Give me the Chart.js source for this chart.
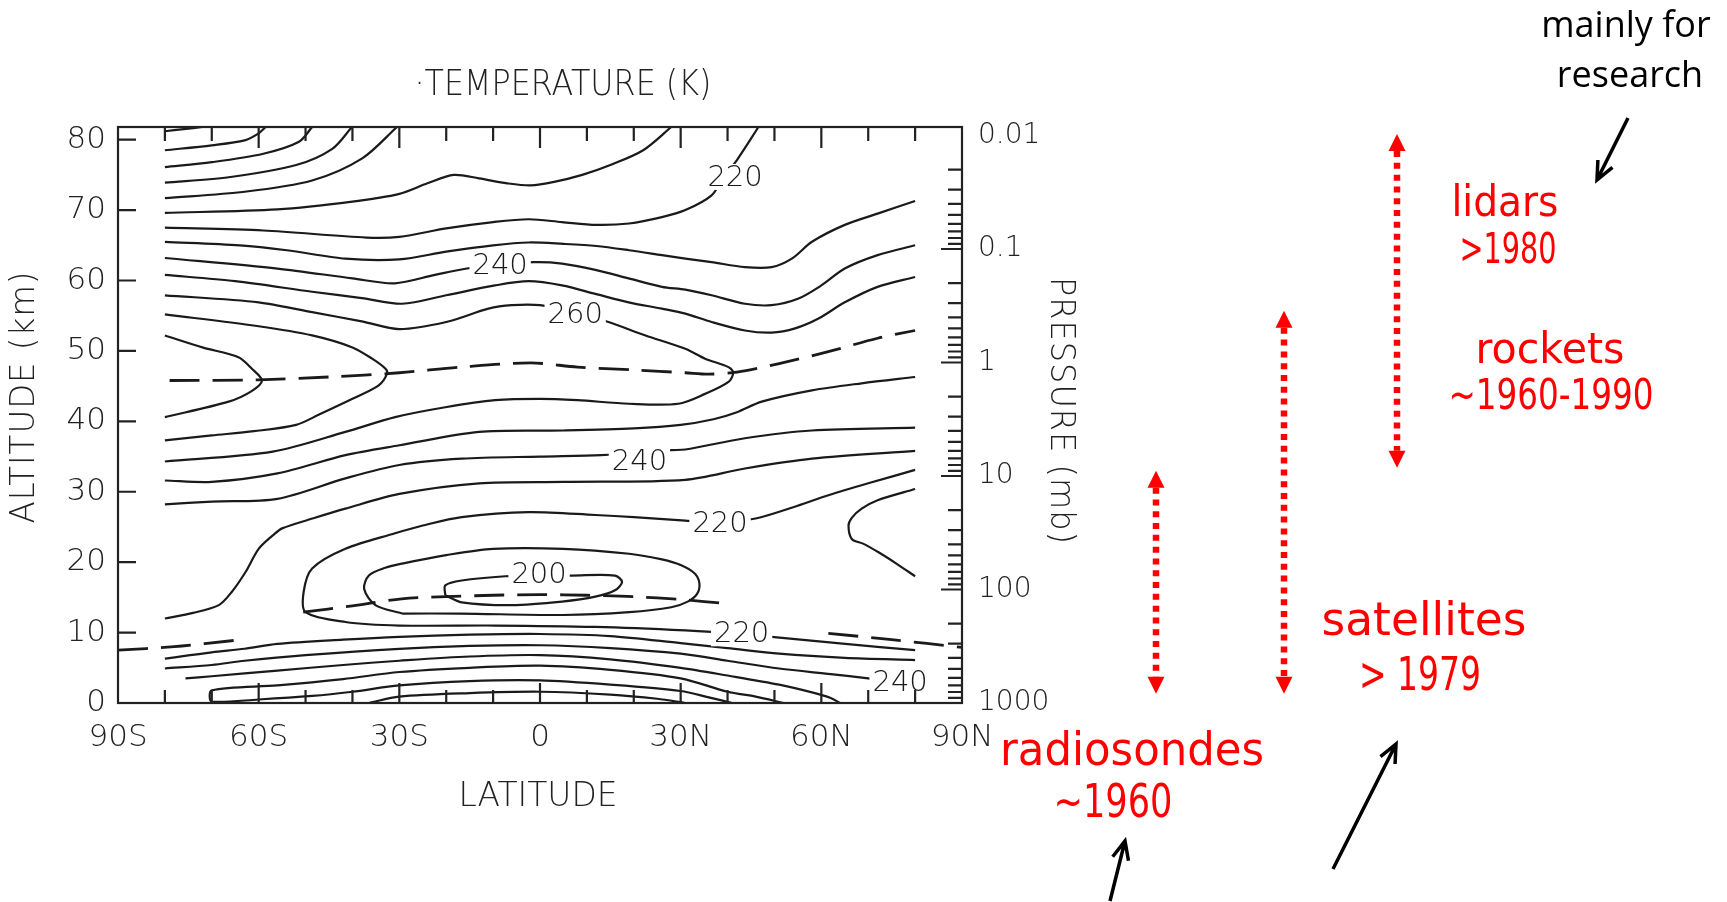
<!DOCTYPE html>
<html lang="en">
<head>
<meta charset="UTF-8">
<title>Zonal mean temperature (K)</title>
<script src="https://cdn.jsdelivr.net/npm/chart.js"></script>
<style>
    * { margin: 0; padding: 0; box-sizing: border-box; }
    body { background: #fff; }
    canvas { display: block; }
</style>
</head>
<body>
<canvas id="temp-section" width="1727" height="902"></canvas>
<script>
// axes
const latTicks = [-90, -60, -30, 0, 30, 60, 90];
const latNames = ['90S', '60S', '30S', '0', '30N', '60N', '90N'];
const altTicks = [0, 10, 20, 30, 40, 50, 60, 70, 80];
const pressureLevels = [0.01, 0.1, 1, 10, 100, 1000];
const pressureNames = ['0.01', '0.1', '1', '10', '100', '1000'];
const scaleHeight = 7.0;   // km, for the pressure axis

// isotherms, [latitude, altitude km]
const k160 = [[-80,81.2],[-76,81.5],[-72,81.8]];
const k170 = [[-80,78.5],[-70,79.2],[-63,79.9],[-60,80.9],[-58.5,81.8]];
const k180 = [[-80,76.1],[-70,76.8],[-59,78.0],[-51.4,79.7],[-48.6,81.8]];
const k190 = [[-80,73.9],[-66,74.7],[-52,76.4],[-44.3,78.7],[-40.1,81.8]];
const k200 = [[-80,71.7],[-63,72.6],[-48.6,74.2],[-38,77.3],[-30.5,81.8]];
const k210 = [[-80,69.6],[-56,70.1],[-40,71.2],[-30,72.3],[-24,73.8],[-18.4,75.0],[-13,74.5],[-7,73.8],[-2,73.5],[3,74.0],[9,75.0],[15,76.4],[22,78.5],[28,81.8]];
const k220 = [[-80,67.5],[-59,67.1],[-37,66.1],[-30,66.2],[-20,67.4],[-10,68.3],[-2.4,68.7],[4.7,68.3],[12,67.9],[19,68.1],[26,69.0],[31,70.0],[36.6,72.1],[39,74.5],[42,77.1],[46.6,81.8]];
const k230 = [[-80,65.5],[-64,65.0],[-54,64.3],[-41.5,63.1],[-30,63.0],[-20,64.1],[-10,65.0],[-2.4,65.4],[5,65.2],[12,64.9],[19,64.3],[26,63.6],[31,63.1],[36.6,62.6],[43.7,61.9],[49.4,61.9],[53.7,63.1],[58,65.5],[65,67.9],[72,69.5],[80,71.3]];
const k240 = [[-80,63.2],[-56,61.7],[-40,60.3],[-31,59.6],[-22.4,60.8],[-15.6,61.7],[-8.5,62.2],[-1.4,62.6],[4.7,62.4],[11.8,61.5],[18.9,60.3],[26,59.1],[31,58.7],[36.6,57.9],[43.7,56.7],[49.4,56.5],[55,57.4],[60,59.3],[65,61.7],[72,63.6],[80,65.0]];
const k250 = [[-80,60.8],[-65,59.9],[-48.6,58.4],[-38,57.5],[-29.4,56.7],[-20,57.9],[-9.6,59.3],[-2.4,59.9],[4.7,59.3],[11.8,58.1],[18.9,56.9],[26,56.0],[31,55.3],[36.6,54.1],[43.7,52.9],[49.4,52.6],[54.4,53.2],[59.4,54.6],[65,56.9],[72,59.1],[80,60.5]];
const k260 = [[-80,57.9],[-60,56.9],[-48.6,55.5],[-38,54.2],[-30,53.1],[-20,54.1],[-11,56.0],[-6,56.5],[0,56.5],[7.5,55.5],[14.6,54.1],[22.5,52.2],[31,50.3],[35.2,48.9],[40.2,47.7],[41.2,46.9],[40.2,45.6],[35.2,43.9],[29.5,42.5],[19,42.5],[8,43.0],[0,43.2],[-9.6,43.0],[-20.2,42.0],[-30.9,40.6],[-41.5,38.5],[-57,35.7],[-80,34.3]];
const k270 = [[-80,55.2],[-60,53.5],[-48.6,52.2],[-40,50.5],[-35.8,48.9],[-33,47.5],[-32.6,46.8],[-34.4,45.1],[-40,43.2],[-47,41.0],[-52,39.5],[-61,38.6],[-70,38.0],[-80,37.3]];
const k280 = [[-80,52.2],[-72,50.5],[-64.3,49.1],[-61.5,47.5],[-59.3,45.8],[-61.5,44.3],[-66.4,42.8],[-80,40.6]];
const k250s = [[-80,31.6],[-70,31.4],[-56,32.6],[-41.5,35.2],[-30,36.6],[-13,38.5],[5,38.7],[20,39.0],[30,39.5],[37,40.3],[42,41.3],[47.3,42.8],[58,44.4],[68.6,45.4],[80,46.3]];
const k240s = [[-80,28.2],[-70,28.6],[-56,29.0],[-41.5,31.9],[-30,33.8],[-16.7,34.7],[0,35.0],[13,35.2],[21,35.5],[28,35.9],[31,36.0],[43.7,37.6],[58,38.7],[80,39.1]];
const k230s = [[-80,12.0],[-74,12.8],[-68.5,13.9],[-65.7,15.8],[-62.8,18.6],[-60,21.9],[-57,23.8],[-55,24.8],[-48,26.3],[-41.5,27.6],[-30,29.7],[-13,31.2],[5,31.4],[31,31.7],[43.7,33.3],[58,34.7],[80,35.8]];
const k220s = [[80,33.1],[70,31.2],[61.5,29.5],[54,27.8],[46,26.2],[38.4,25.6],[31,25.9],[20,26.4],[11.8,26.7],[-2.4,27.1],[-16.7,26.4],[-25,25.2],[-30.9,24.1],[-41.5,21.9],[-48.6,19.1],[-50.4,15.8],[-50,12.9],[-41.5,11.5],[-30,11.0],[-9.6,11.0],[11.8,10.8],[31,10.3],[43,9.8],[49.4,9.4],[65.1,8.4],[80,7.5]];
const k210t = [[-29.4,12.7],[-35.1,13.9],[-37.5,16.2],[-36.5,18.1],[-33,19.2],[-29.4,19.8],[-20,21.0],[-10,21.9],[5,21.9],[19,21.2],[26,20.4],[30,19.6],[33,18.4],[34,17.0],[33.5,15.5],[31.5,14.4],[28,13.6],[19,12.9],[5,12.5],[-17,12.7],[-29.4,12.7]];
const k200t = [[-20.2,15.3],[-20.2,16.7],[-16.7,17.4],[-7.4,18.0],[0,18.1],[6.8,18.1],[16,18.1],[17.5,17.2],[16,16.0],[11.8,15.1],[4.7,14.4],[-6,13.9],[-16.7,14.3],[-20.2,15.3]];
const k210n = [[80,30.4],[72,28.8],[68.6,27.6],[66.5,26.3],[65.8,25.2],[66.5,23.3],[69,22.6],[72.2,21.4],[76,19.8],[80,18.0]];
const k230low = [[-80,6.3],[-70,7.2],[-63,7.7],[-56,8.4],[-42,9.0],[-30,9.4],[-15,9.7],[0,9.8],[15,9.5],[30,8.5],[40,7.8],[51,7.0],[65,6.4],[80,6.1]];
const k240low = [[-80,4.9],[-70,5.4],[-63,6.0],[-50,6.8],[-30,7.7],[-15,8.1],[0,8.2],[15,7.8],[30,7.0],[40,6.0],[51,4.9],[62,4.1],[70,3.5],[73,3.2]];
const k250low = [[-75.6,3.5],[-70,3.8],[-56,4.6],[-42,5.4],[-30,6.0],[-15,6.6],[0,6.8],[15,6.2],[30,5.0],[40,3.9],[51,2.6],[58,1.5],[62,0.7],[64,0]];
const k260low = [[52,0],[46,0.9],[40,1.6],[30,3.5],[15,4.7],[0,5.3],[-15,5.0],[-30,4.4],[-42,3.4],[-56,2.5],[-70,1.8],[-70,0.2],[-60,0.5],[-48.6,1.0],[-40,1.6],[-30,2.5],[-15,3.1],[0,3.2],[15,2.6],[30,1.7],[36,0.8],[41,0]];
const k280low = [[-36.5,0],[-30,0.9],[-15,1.4],[0,1.6],[15,1.2],[25,0.6],[31,0]];

const isotherms = [k160, k170, k180, k190, k200, k210, k220, k230, k240, k250, k260, k270, k280,
    k250s, k240s, k230s, k220s, k210t, k200t, k210n, k230low, k240low, k250low, k260low, k280low];

// stratopause and tropopause (dashed)
const stratopause = [[-79,45.8],[-60,45.9],[-45,46.3],[-30,46.9],[-17,47.7],[-2,48.3],[8,47.7],[20,47.3],[31,46.9],[36,46.7],[42,47.0],[51,48.2],[61.5,49.9],[72,51.8],[80,52.9]];
const tropopauseS = [[-90,7.5],[-78,8.0],[-65,8.9]];
const tropopauseEq = [[-50.5,12.9],[-40,13.8],[-29.5,14.8],[-20,15.1],[-10,15.3],[0,15.4],[10,15.3],[20,15.1],[30,14.7],[40,14.1]];
const tropopauseN = [[61.5,9.9],[75,9.0],[90,7.9]];
const boundaries = [stratopause, tropopauseS, tropopauseEq, tropopauseN];

// contour labels [latitude, altitude, text]
const contourLabels = [[41.6,74.7,'220'],[-8.5,62.2,'240'],[7.5,55.2,'260'],[21.2,34.3,'240'],
    [38.4,25.5,'220'],[-0.2,18.2,'200'],[43,9.9,'220'],[76.8,2.9,'240']];

// altitude coverage of each observing system (km)
const systems = ['radiosondes', 'satellites', 'rockets/lidars'];
const coverageBottom = [1.3, 1.3, 33.4];
const coverageTop = [33, 55.7, 80.8];

const ink = '#1a1a1a';
const grey = '#222';
const red = '#ff0000';
const plotFont = '"DejaVu Sans", sans-serif';
const altOfPressure = p => scaleHeight * Math.log(1000 / p);

const datasets = isotherms.map(line => ({
    data: line.map(([x, y]) => ({ x, y })),
    borderColor: ink, borderWidth: 2.2, tension: 0.3,
    pointRadius: 0, fill: false
})).concat(boundaries.map(line => ({
    data: line.map(([x, y]) => ({ x, y })),
    borderColor: ink, borderWidth: 2.8, borderDash: [30, 13], tension: 0.3,
    pointRadius: 0, fill: false
})));

function text(ctx, str, cx, cy, font, color, opts = {}) {
    ctx.save();
    ctx.font = font;
    ctx.fillStyle = color;
    ctx.letterSpacing = (opts.spacing || 0) + 'px';
    ctx.textAlign = 'center';
    ctx.textBaseline = opts.baseline || 'alphabetic';
    ctx.translate(cx, cy);
    if (opts.rotate) ctx.rotate(opts.rotate);
    const w = ctx.measureText(str).width;
    if (opts.maxWidth && w > opts.maxWidth) ctx.scale(opts.maxWidth / w, 1);
    ctx.fillText(str, 0, 0);
    ctx.restore();
}

function arrowLine(ctx, x0, y0, x1, y1) {
    const a = Math.atan2(y1 - y0, x1 - x0), len = 20, spread = 0.42;
    ctx.beginPath();
    ctx.moveTo(x0, y0); ctx.lineTo(x1, y1);
    ctx.moveTo(x1 - len * Math.cos(a - spread), y1 - len * Math.sin(a - spread));
    ctx.lineTo(x1, y1);
    ctx.lineTo(x1 - len * Math.cos(a + spread), y1 - len * Math.sin(a + spread));
    ctx.stroke();
}

function dottedRange(ctx, px, yTop, yBot) {
    const h = 17, half = 8.5;
    ctx.strokeStyle = red; ctx.fillStyle = red;
    ctx.lineWidth = 6.5;
    ctx.setLineDash([6, 5.8]);
    ctx.beginPath(); ctx.moveTo(px, yTop + h); ctx.lineTo(px, yBot - h); ctx.stroke();
    ctx.setLineDash([]);
    ctx.beginPath();
    ctx.moveTo(px, yTop); ctx.lineTo(px + half, yTop + h); ctx.lineTo(px - half, yTop + h); ctx.closePath();
    ctx.moveTo(px, yBot); ctx.lineTo(px + half, yBot - h); ctx.lineTo(px - half, yBot - h); ctx.closePath();
    ctx.fill();
}

const decorations = {
    id: 'decorations',
    afterDatasetsDraw(chart) {
        const { ctx, scales: { x, y } } = chart;
        ctx.save();
        ctx.font = `200 29px ${plotFont}`;
        ctx.textAlign = 'center';
        ctx.textBaseline = 'middle';
        contourLabels.forEach(([lat, alt, t]) => {
            const px = x.getPixelForValue(lat), py = y.getPixelForValue(alt);
            const w = ctx.measureText(t).width + 6;
            ctx.fillStyle = '#fff';
            ctx.fillRect(px - w / 2, py - 13, w, 26);
            ctx.fillStyle = ink;
            ctx.fillText(t, px, py + 1);
        });
        ctx.restore();
    },
    afterDraw(chart) {
        const { ctx, chartArea: a, scales: { x, y, y2 } } = chart;
        ctx.save();
        ctx.strokeStyle = '#222';
        ctx.lineWidth = 2.2;
        ctx.strokeRect(a.left, a.top, a.right - a.left, a.bottom - a.top);

        ctx.beginPath();
        altTicks.forEach(v => {
            const py = y.getPixelForValue(v);
            ctx.moveTo(a.left, py); ctx.lineTo(a.left + 18, py);
        });
        for (let lat = -80; lat <= 80; lat += 10) {
            const px = x.getPixelForValue(lat);
            const major = lat % 30 === 0;
            ctx.moveTo(px, a.bottom); ctx.lineTo(px, a.bottom - (major ? 20 : 13));
            ctx.moveTo(px, a.top); ctx.lineTo(px, a.top + (major ? 21 : 14));
        }
        pressureLevels.forEach((p0, i) => {
            for (let m = 1; m <= 9; m++) {
                const p = p0 * m;
                if (p > 1000 || (i === 0 && m === 1)) continue;
                const py = y2.getPixelForValue(altOfPressure(p));
                ctx.moveTo(a.right, py); ctx.lineTo(a.right - (m === 1 ? 21 : 14), py);
            }
        });
        ctx.stroke();

        // axis titles
        text(ctx, '\u00b7TEMPERATURE (K)', 563, 95, `200 35px ${plotFont}`, grey, { maxWidth: 297 });
        text(ctx, 'LATITUDE', 538, 797, `200 34px ${plotFont}`, grey, { baseline: 'middle', maxWidth: 159 });
        text(ctx, 'ALTITUDE (km)', 25, 397, `200 33px ${plotFont}`, grey, { baseline: 'middle', rotate: -Math.PI / 2, spacing: 1, maxWidth: 253 });
        text(ctx, 'PRESSURE (mb)', 1060, 411, `200 33px ${plotFont}`, grey, { baseline: 'middle', rotate: Math.PI / 2, spacing: 1, maxWidth: 268 });

        // observing systems
        const columns = [1156, 1284, 1397];
        systems.forEach((s, i) => {
            dottedRange(ctx, columns[i], y.getPixelForValue(coverageTop[i]), y.getPixelForValue(coverageBottom[i]));
        });
        const hand = `46px ${plotFont}`;
        text(ctx, 'radiosondes', 1132, 765, hand, red, { maxWidth: 264 });
        text(ctx, '~1960', 1113, 817, hand, red, { maxWidth: 119 });
        text(ctx, 'satellites', 1424, 635, hand, red, { maxWidth: 205 });
        text(ctx, '> 1979', 1420, 690, hand, red, { maxWidth: 122 });
        text(ctx, 'rockets', 1550, 363, `42px ${plotFont}`, red, { maxWidth: 149 });
        text(ctx, '~1960-1990', 1551, 409, `42px ${plotFont}`, red, { maxWidth: 205 });
        text(ctx, 'lidars', 1505, 216, `42px ${plotFont}`, red, { maxWidth: 107 });
        text(ctx, '>1980', 1508, 263, `42px ${plotFont}`, red, { maxWidth: 97 });

        text(ctx, 'mainly for', 1626, 37, '36px "Open Sans", sans-serif', '#000', { maxWidth: 174 });
        text(ctx, 'research', 1630, 87, '36px "Open Sans", sans-serif', '#000', { maxWidth: 147 });

        ctx.strokeStyle = '#000';
        ctx.lineWidth = 3.5;
        arrowLine(ctx, 1110, 901, 1125, 841);
        arrowLine(ctx, 1333, 869, 1396, 744);
        arrowLine(ctx, 1628, 118, 1597, 180);
        ctx.restore();
    }
};

const tickFont = { family: plotFont, size: 31, weight: 200 };
const pressureFont = { family: plotFont, size: 28, weight: 200 };

new Chart(document.getElementById('temp-section'), {
    type: 'line',
    data: { datasets },
    options: {
        responsive: false,
        animation: false,
        devicePixelRatio: 1,
        events: [],
        layout: { padding: { left: 0, top: 127, right: 635, bottom: 79 } },
        plugins: { legend: { display: false }, tooltip: { enabled: false } },
        scales: {
            x: {
                type: 'linear', position: 'bottom', min: -90, max: 90,
                afterBuildTicks: s => { s.ticks = latTicks.map(v => ({ value: v })); },
                afterFit: s => { s.height = 120; },
                ticks: { callback: (v, i) => latNames[i], font: tickFont, color: grey, padding: 16, maxRotation: 0, autoSkip: false },
                grid: { display: false, drawTicks: false },
                border: { display: false }
            },
            y: {
                type: 'linear', position: 'left', min: 0, max: 81.8,
                afterBuildTicks: s => { s.ticks = altTicks.map(v => ({ value: v })); },
                afterFit: s => { s.width = 118; },
                ticks: { font: tickFont, color: grey, padding: 12, autoSkip: false },
                grid: { display: false, drawTicks: false },
                border: { display: false }
            },
            y2: {
                type: 'linear', position: 'right', min: 0, max: 81.8,
                afterBuildTicks: s => { s.ticks = pressureLevels.map(p => ({ value: altOfPressure(p) })); },
                afterFit: s => { s.width = 130; },
                ticks: { callback: (v, i) => pressureNames[i], font: pressureFont, color: grey, padding: 16, autoSkip: false },
                grid: { display: false, drawTicks: false },
                border: { display: false }
            }
        }
    },
    plugins: [decorations]
});
</script>
</body>
</html>
